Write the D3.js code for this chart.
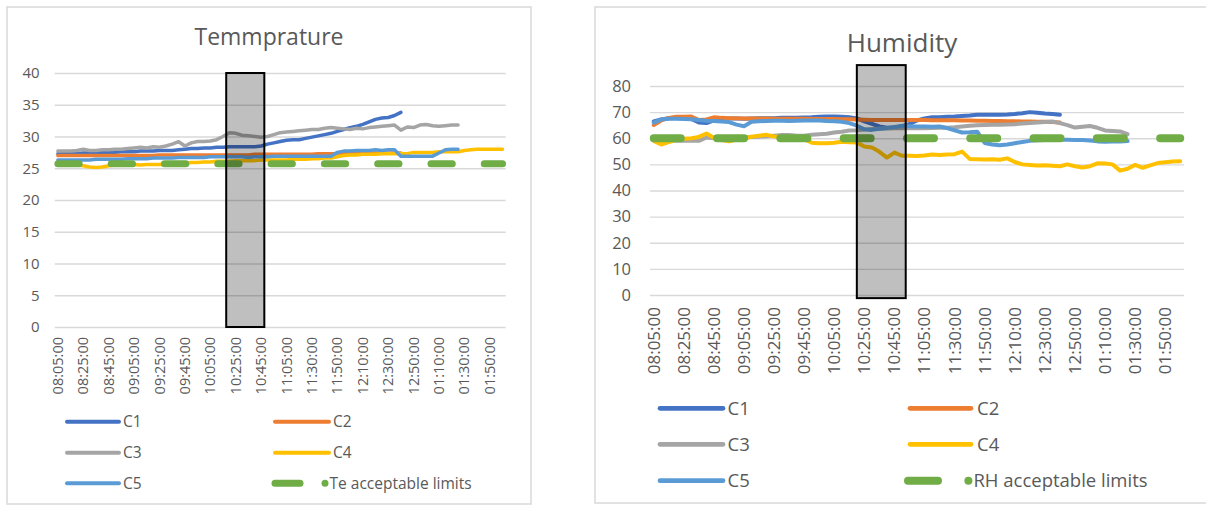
<!DOCTYPE html>
<html>
<head>
<meta charset="utf-8">
<script src="https://cdn.jsdelivr.net/npm/d3@7"></script>
<style>
  body { margin: 0; background: #fff; }
  text { font-family: "Open Sans", "Liberation Sans", sans-serif; fill: #595959; }
</style>
</head>
<body>
<div id="charts"></div>
<script>
// time stamps on the category axis (one every 5 minutes, a label every 4th)
var times = ["08:05:00","08:10:00","08:15:00","08:20:00","08:25:00","08:30:00","08:35:00","08:40:00","08:45:00","08:50:00",
  "08:55:00","09:00:00","09:05:00","09:10:00","09:15:00","09:20:00","09:25:00","09:30:00","09:35:00","09:40:00",
  "09:45:00","09:50:00","09:55:00","10:00:00","10:05:00","10:10:00","10:15:00","10:20:00","10:25:00","10:30:00",
  "10:35:00","10:40:00","10:45:00","10:50:00","10:55:00","11:00:00","11:05:00","11:10:00","11:15:00","11:25:00",
  "11:30:00","11:35:00","11:40:00","11:45:00","11:50:00","11:55:00","12:00:00","12:05:00","12:10:00","12:15:00",
  "12:20:00","12:25:00","12:30:00","12:35:00","12:40:00","12:45:00","12:50:00","12:55:00","01:00:00","01:05:00",
  "01:10:00","01:15:00","01:20:00","01:25:00","01:30:00","01:35:00","01:40:00","01:45:00","01:50:00","01:55:00","02:00:00"];

var seriesNames = ["C1", "C2", "C3", "C4", "C5"];

// Temperature readings
var tempC1 = [27.3,27.3,27.3,27.3,27.4,27.4,27.4,27.5,27.5,27.5,27.6,27.6,27.6,27.7,27.7,27.7,27.8,27.8,27.8,27.9,
  28.0,28.1,28.1,28.2,28.2,28.3,28.3,28.4,28.4,28.4,28.4,28.4,28.5,28.8,29.0,29.2,29.4,29.5,29.5,29.7,
  29.9,30.1,30.3,30.5,30.8,31.1,31.4,31.6,31.9,32.3,32.7,32.9,33.0,33.3,33.8];
var tempC2 = [27.0,27.0,27.0,27.0,27.0,27.0,27.0,27.0,27.0,27.0,27.0,27.0,27.0,27.0,27.0,27.0,27.1,27.1,27.1,27.1,
  27.1,27.1,27.1,27.1,27.1,27.1,27.1,27.1,27.1,27.1,27.1,27.2,27.2,27.2,27.2,27.2,27.2,27.2,27.2,27.2,
  27.2,27.3,27.3,27.3,27.3,27.3,27.3,27.3,27.3,27.4,27.4,27.4,27.4,27.4,27.4];
var tempC3 = [27.7,27.7,27.7,27.8,28.0,27.8,27.8,27.9,27.9,28.0,28.0,28.1,28.2,28.3,28.2,28.4,28.3,28.5,28.8,29.2,
  28.5,29.0,29.2,29.2,29.3,29.5,30.0,30.6,30.5,30.2,30.1,30.0,29.9,30.0,30.3,30.6,30.7,30.8,30.9,31.0,
  31.1,31.1,31.3,31.4,31.3,31.2,31.1,31.3,31.2,31.4,31.5,31.6,31.7,31.8,31.0,31.5,31.4,31.8,31.9,31.7,
  31.6,31.7,31.8,31.8];
var tempC4 = [25.8,25.7,25.6,25.5,25.4,25.2,25.1,25.2,25.4,25.5,25.5,25.5,25.6,25.5,25.6,25.6,25.6,25.7,25.7,25.8,
  25.8,25.9,25.9,26.0,26.0,26.1,26.1,26.1,26.2,26.2,26.2,26.2,26.3,26.3,26.3,26.3,26.3,26.4,26.4,26.4,
  26.5,26.5,26.6,26.6,26.8,27.0,27.1,27.1,27.2,27.2,27.2,27.3,27.3,27.3,27.3,27.3,27.5,27.5,27.5,27.5,
  27.6,27.6,27.6,27.6,27.8,27.9,28.0,28.0,28.0,28.0,28.0];
var tempC5 = [26.3,26.3,26.3,26.3,26.3,26.3,26.4,26.4,26.4,26.4,26.4,26.5,26.5,26.5,26.5,26.6,26.6,26.6,26.6,26.7,
  26.7,26.7,26.7,26.7,26.8,26.8,26.8,26.8,26.8,26.8,26.7,26.8,26.8,26.8,26.9,26.9,26.9,26.9,26.9,26.9,
  26.9,26.9,26.9,26.9,27.5,27.7,27.7,27.8,27.8,27.8,27.9,27.8,27.9,27.9,26.9,26.9,26.9,26.9,26.9,26.9,
  27.4,27.9,28.0,28.0];
var tempLimit = 25.7;

// Relative humidity readings
var humC1 = [66.4,67.2,67.7,67.8,67.8,67.4,66.0,65.8,66.8,67.4,67.6,67.6,67.5,67.6,67.7,67.7,67.7,67.8,67.8,67.8,
  67.9,68.0,68.2,68.3,68.3,68.2,68.0,67.6,66.5,65.5,64.5,64.0,64.0,64.6,65.5,66.8,67.6,68.0,68.0,68.2,
  68.3,68.5,68.7,69.0,69.0,69.0,69.0,69.1,69.3,69.6,70.0,69.8,69.5,69.3,69.0];
var humC2 = [65.1,66.8,67.8,68.2,68.2,68.3,67.0,67.2,68.0,67.8,67.7,67.7,67.6,67.6,67.6,67.6,67.5,67.5,67.5,67.5,
  67.5,67.4,67.4,67.4,67.4,67.3,67.3,67.2,67.1,67.0,67.0,67.0,67.0,67.0,67.0,67.0,67.0,66.9,66.9,66.9,
  66.9,66.8,66.8,66.7,66.7,66.6,66.6,66.5,66.5,66.4,66.4,66.3,66.3,66.2,66.0];
var humC3 = [60.0,59.6,59.2,59.0,59.0,59.0,59.0,60.3,60.0,59.8,60.0,60.2,60.3,60.5,60.6,60.8,61.0,61.2,61.2,61.0,
  61.0,61.3,61.5,61.7,62.2,62.5,63.0,63.1,63.3,63.5,63.6,63.7,63.8,63.8,63.8,63.8,63.8,63.9,64.0,64.0,
  64.2,64.5,64.8,65.0,65.1,65.2,65.2,65.3,65.4,65.6,65.8,66.0,66.2,66.4,65.8,65.0,64.1,64.4,64.7,64.0,
  63.0,62.8,62.6,61.6];
var humC4 = [59.0,57.6,58.5,59.4,59.8,60.0,60.5,61.8,60.2,59.3,58.8,59.4,60.0,60.6,61.0,61.3,60.7,60.4,60.0,60.0,
  59.6,58.3,58.1,58.1,58.3,58.7,58.5,58.4,56.8,56.5,54.8,52.6,54.5,53.3,53.3,53.2,53.4,53.8,53.6,53.8,
  53.9,54.9,52.1,52.0,51.9,52.0,51.8,52.3,50.9,50.0,49.8,49.6,49.7,49.5,49.3,50.0,49.3,48.8,49.3,50.4,
  50.3,50.0,47.6,48.3,49.8,48.7,49.6,50.5,50.8,51.1,51.2];
var humC5 = [66.0,67.2,67.5,67.5,67.4,67.3,67.0,66.7,66.6,66.4,66.2,65.2,64.6,66.3,66.5,66.6,66.7,66.7,66.6,66.7,
  66.8,66.8,66.8,66.6,66.5,66.3,65.8,64.8,63.4,63.2,63.6,63.9,64.3,64.7,64.6,64.5,64.5,64.4,64.5,63.9,
  63.0,62.2,62.3,62.5,58.2,57.6,57.3,57.6,58.1,58.6,59.0,59.2,59.3,59.4,59.4,59.4,59.3,59.3,59.1,58.8,
  58.7,58.8,58.8,58.9];
var humLimit = 60;

var colors = ["#4472C4", "#ED7D31", "#A5A5A5", "#FFC000", "#5B9BD5"];
var limitColor = "#70AD47";

var svg = d3.select("#charts")
    .append("svg")
    .attr("width", 1206)
    .attr("height", 507);

function drawChart(cfg) {
    var g = svg.append("g");

    // outer frame of the chart
    g.append("rect")
        .attr("x", cfg.frame[0]).attr("y", cfg.frame[1])
        .attr("width", cfg.frame[2] - cfg.frame[0])
        .attr("height", cfg.frame[3] - cfg.frame[1])
        .attr("fill", "#fff")
        .attr("stroke", "#D9D9D9")
        .attr("stroke-width", 1.5);

    g.append("text")
        .attr("x", cfg.titleX)
        .attr("y", cfg.titleY)
        .attr("dy", "0.35em")
        .attr("text-anchor", "middle")
        .style("font-size", cfg.titleSize + "px")
        .text(cfg.title);

    var plot = g.append("g")
        .attr("transform", "translate(" + cfg.left + "," + cfg.top + ")");
    var width = cfg.right - cfg.left,
        height = cfg.bottom - cfg.top;

    // category index -> x (band edges at integers, centres at i + 0.5)
    var x = d3.scaleLinear()
        .domain([0, times.length])
        .range([0, width]);
    var y = d3.scaleLinear()
        .domain([0, cfg.yMax])
        .range([height, 0]);

    // Y axis: gridlines + labels
    var yAxis = plot.append("g")
        .call(d3.axisLeft(y).ticks(cfg.yMax / cfg.yStep).tickSize(-width).tickPadding(cfg.yPad));
    yAxis.select(".domain").remove();
    yAxis.selectAll("line").attr("stroke", "#D9D9D9").attr("stroke-width", 1.3);
    yAxis.selectAll("text")
        .attr("fill", "#595959")
        .style("font-family", "'Open Sans', sans-serif")
        .style("font-size", cfg.tickSize + "px");

    // X axis labels, every 4th time stamp, rotated
    var labelIdx = d3.range(0, times.length, 4);
    plot.append("g")
        .selectAll("text")
        .data(labelIdx)
        .join("text")
        .attr("transform", function(i) {
            return "translate(" + x(i + 0.5) + "," + (height + cfg.xPad) + ")rotate(-90)";
        })
        .attr("dy", "0.35em")
        .attr("text-anchor", "end")
        .style("font-size", cfg.xTickSize + "px")
        .text(function(i) { return times[i]; });

    var line = d3.line()
        .x(function(d) { return x(d[0] + 0.5); })
        .y(function(d) { return y(d[1]); });

    cfg.series.forEach(function(s, k) {
        plot.append("path")
            .datum(s.map(function(v, i) { return [i, v]; }))
            .attr("fill", "none")
            .attr("stroke", colors[k])
            .attr("stroke-width", cfg.lineWidth)
            .attr("stroke-linejoin", "round")
            .attr("stroke-linecap", "round")
            .attr("d", line);
    });

    // acceptable limit, dashed green
    plot.append("path")
        .datum(times.map(function(t, i) { return [i, cfg.limit]; }))
        .attr("fill", "none")
        .attr("stroke", limitColor)
        .attr("stroke-width", cfg.limitWidth)
        .attr("stroke-linecap", "round")
        .attr("stroke-dasharray", cfg.dash.join(","))
        .attr("d", line);

    // highlighted period (shaded box)
    plot.append("rect")
        .attr("x", x(cfg.shade[0]))
        .attr("width", x(cfg.shade[1]) - x(cfg.shade[0]))
        .attr("y", y(cfg.shade[3]))
        .attr("height", y(cfg.shade[2]) - y(cfg.shade[3]))
        .attr("fill", "#000")
        .attr("fill-opacity", 0.25)
        .attr("stroke", "#000")
        .attr("stroke-width", 2);

    // legend: two columns, three rows
    var lg = g.append("g");
    seriesNames.forEach(function(name, k) {
        var col = k % 2, row = Math.floor(k / 2);
        var ly = cfg.legRows[row];
        lg.append("line")
            .attr("x1", cfg.legLines[col][0]).attr("x2", cfg.legLines[col][1])
            .attr("y1", ly).attr("y2", ly)
            .attr("stroke", colors[k])
            .attr("stroke-width", cfg.legWidth)
            .attr("stroke-linecap", "round");
        lg.append("text")
            .attr("x", cfg.legText[col]).attr("y", ly)
            .attr("dy", "0.35em")
            .style("font-size", cfg.legSize + "px")
            .text(name);
    });
    var ly = cfg.legRows[2];
    lg.append("line")
        .attr("x1", cfg.legDash[0]).attr("x2", cfg.legDash[1])
        .attr("y1", ly).attr("y2", ly)
        .attr("stroke", limitColor)
        .attr("stroke-width", cfg.limitWidth)
        .attr("stroke-linecap", "round");
    lg.append("circle")
        .attr("cx", cfg.legDot).attr("cy", ly)
        .attr("r", cfg.limitWidth / 2)
        .attr("fill", limitColor);
    lg.append("text")
        .attr("x", cfg.legDot + cfg.limitWidth / 2 + 1).attr("y", ly)
        .attr("dy", "0.35em")
        .style("font-size", cfg.legSize + "px")
        .text(cfg.limitName);
}

drawChart({
    frame: [7, 7, 531, 504],
    title: "Temmprature", titleX: 269, titleY: 37, titleSize: 23,
    left: 54.7, right: 505.7, top: 73, bottom: 327,
    yMax: 40, yStep: 5, yPad: 15, tickSize: 15,
    xPad: 10, xTickSize: 14.5,
    series: [tempC1, tempC2, tempC3, tempC4, tempC5],
    limit: tempLimit, limitName: "Te acceptable limits",
    lineWidth: 3.5, limitWidth: 7, dash: [21.3, 32],
    shade: [27, 33, 0, 40],
    legRows: [421.7, 452.7, 483.3],
    legLines: [[67, 119], [275, 329]], legText: [123, 333],
    legWidth: 4, legSize: 15.5, legDash: [275, 300], legDot: 325
});

drawChart({
    frame: [595, 7, 1215, 503],
    title: "Humidity", titleX: 902, titleY: 43, titleSize: 26,
    left: 650, right: 1184, top: 86, bottom: 295,
    yMax: 80, yStep: 10, yPad: 19, tickSize: 16.5,
    xPad: 12, xTickSize: 17,
    series: [humC1, humC2, humC3, humC4, humC5],
    limit: humLimit, limitName: "RH acceptable limits",
    lineWidth: 4, limitWidth: 8, dash: [27, 36.3],
    shade: [27.5, 34, -1.2, 88],
    legRows: [408.3, 444.3, 480.7],
    legLines: [[660, 723], [910, 971]], legText: [727.5, 977],
    legWidth: 4.7, legSize: 18.5, legDash: [908, 938], legDot: 968.4
});
</script>
</body>
</html>
